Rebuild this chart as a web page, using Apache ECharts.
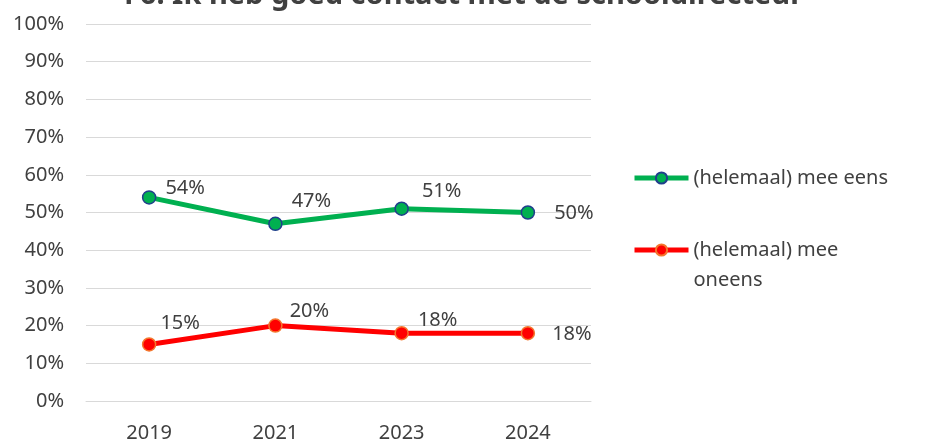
<!DOCTYPE html>
<html>
<head>
<meta charset="utf-8">
<style>
  html, body { margin: 0; padding: 0; background: #fff; }
  #chart { width: 927px; height: 441px; }
</style>
<script src="https://cdn.jsdelivr.net/npm/echarts@6/dist/echarts.min.js"></script>
</head>
<body>
<div id="chart"></div>
<script>
const years = ['2019', '2021', '2023', '2024']
const meeEens = [54, 47, 51, 50]
const meeOneens = [15, 20, 18, 18]
const seriesNames = ['(helemaal) mee eens', '(helemaal) mee oneens']

// label offsets per point (Excel placed them by hand)
const eensOffsets = [[36, -9], [36, -23], [40, -17], [46, 1]]
const oneensOffsets = [[31, -21], [34, -14], [36, -13], [44, 1]]

const font = 'Noto Sans'
const textColor = '#404040'
const fs = 20

const chart = echarts.init(document.getElementById('chart'))

const withLabels = (values, offsets) => values.map((v, i) => ({
  value: v,
  label: { offset: offsets[i] }
}))

const option = {
  animation: false,
  textStyle: { fontFamily: font },
  title: {
    text: 'F6: Ik heb goed contact met de schooldirecteur',
    left: 'center',
    top: -24,
    textStyle: { fontSize: 29, fontWeight: 'bold', color: '#404040', fontFamily: font }
  },
  grid: { left: 86, right: 336, top: 24, bottom: 40, outerBoundsMode: 'none', containLabel: false },
  legend: [
    {
      data: [seriesNames[0]],
      left: 627,
      top: 163,
      itemWidth: 54,
      itemHeight: 14,
      lineStyle: { width: 5 },
      textStyle: { fontSize: fs, color: textColor, fontFamily: font }
    },
    {
      data: [seriesNames[1]],
      left: 627,
      top: 200,
      itemWidth: 54,
      itemHeight: 14,
      lineStyle: { width: 5 },
      // leading blank line keeps the icon level with the first text line
      formatter: () => ' \n(helemaal) mee\noneens',
      textStyle: { fontSize: fs, color: textColor, fontFamily: font, lineHeight: 30 }
    }
  ],
  xAxis: {
    type: 'category',
    data: years,
    axisLine: { lineStyle: { color: '#d9d9d9', width: 1 } },
    axisTick: { show: false },
    axisLabel: { fontSize: fs, color: textColor, margin: 22, fontFamily: font }
  },
  yAxis: {
    type: 'value',
    min: 0,
    max: 100,
    interval: 10,
    axisLine: { show: false },
    axisTick: { show: false },
    splitLine: { lineStyle: { color: '#d9d9d9', width: 1 } },
    axisLabel: { fontSize: fs, color: textColor, margin: 22, formatter: '{value}%', fontFamily: font }
  },
  series: [
    {
      name: seriesNames[0],
      type: 'line',
      data: withLabels(meeEens, eensOffsets),
      symbol: 'circle',
      symbolSize: 13,
      lineStyle: { color: '#00b050', width: 5 },
      itemStyle: { color: '#00b050', borderColor: '#203f8c', borderWidth: 1.5 },
      label: {
        show: true,
        position: 'inside',
        formatter: '{c}%',
        fontSize: fs,
        color: textColor,
        fontFamily: font
      }
    },
    {
      name: seriesNames[1],
      type: 'line',
      data: withLabels(meeOneens, oneensOffsets),
      symbol: 'circle',
      symbolSize: 13,
      lineStyle: { color: '#ff0000', width: 5 },
      itemStyle: { color: '#ff0000', borderColor: '#f4772e', borderWidth: 1.5 },
      label: {
        show: true,
        position: 'inside',
        formatter: '{c}%',
        fontSize: fs,
        color: textColor,
        fontFamily: font
      }
    }
  ]
}

chart.setOption(option)
</script>
</body>
</html>
